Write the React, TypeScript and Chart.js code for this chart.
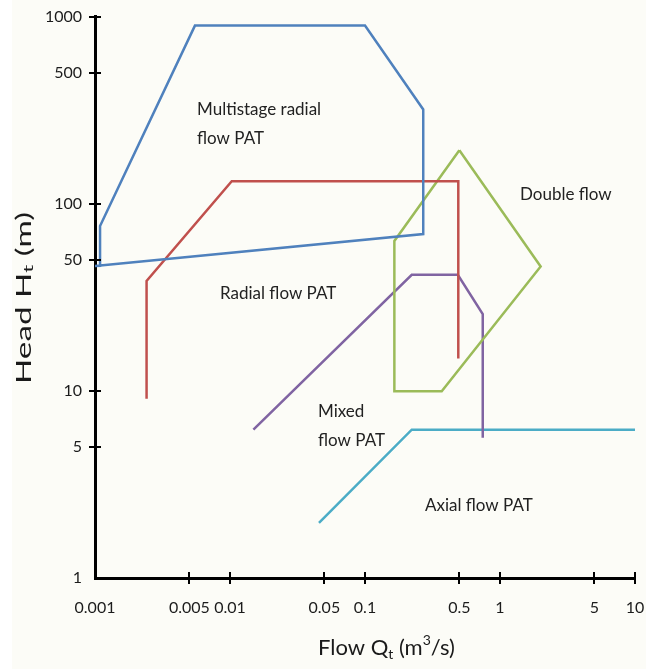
import React, { useEffect, useRef } from "react";
import { Chart, registerables } from "chart.js";

Chart.register(...registerables);

// Tick values and labels
const xTickValues = [0.001, 0.005, 0.01, 0.05, 0.1, 0.5, 1, 5, 10];
const xTickLabels = ["0.001", "0.005", "0.01", "0.05", "0.1", "0.5", "1", "5", "10"];
const yTickValues = [1, 5, 10, 50, 100, 500, 1000];
const yTickLabels = ["1", "5", "10", "50", "100", "500", "1000"];

// Envelope outlines: [flow Q (m3/s), head H (m)]
const multistageQ = [0.001, 0.00109, 0.00109, 0.0055, 0.1, 0.27, 0.27, 0.001];
const multistageH = [46.5, 46.6, 76, 895, 895, 319, 68.9, 46.5];

const radialQ = [0.00241, 0.00241, 0.0103, 0.491, 0.491];
const radialH = [9.07, 38.7, 132, 132, 14.9];

const doubleQ = [0.5, 2.0, 0.37, 0.165, 0.165, 0.5];
const doubleH = [193, 46.2, 9.96, 9.96, 63.2, 193];

const mixedQ = [0.0149, 0.222, 0.487, 0.745, 0.745];
const mixedH = [6.2, 41.7, 41.7, 25.7, 5.62];

const axialQ = [0.0456, 0.222, 10];
const axialH = [1.97, 6.2, 6.2];

const seriesColors = ["#4F81BD", "#C0504D", "#9BBB59", "#8064A2", "#4BACC6"];

// Region labels: lines of text, anchored at (Q, H) of their first line
const regionLabels = [
  { lines: ["Multistage radial", "flow PAT"], q: 0.0057, h: 319 },
  { lines: ["Radial flow PAT"], q: 0.00843, h: 33.0 },
  { lines: ["Double flow"], q: 1.406, h: 112.6 },
  { lines: ["Mixed", "flow PAT"], q: 0.0449, h: 7.76 },
  { lines: ["Axial flow PAT"], q: 0.278, h: 2.45 },
];

const toPoints = (qs: number[], hs: number[]) => qs.map((q, i) => ({ x: q, y: hs[i] }));

export default function App() {
  const ref = useRef<HTMLCanvasElement | null>(null);

  useEffect(() => {
    document.body.style.margin = "0";
    const canvas = ref.current;
    if (!canvas) return;

    const allSeries = [
      toPoints(multistageQ, multistageH),
      toPoints(radialQ, radialH),
      toPoints(doubleQ, doubleH),
      toPoints(mixedQ, mixedH),
      toPoints(axialQ, axialH),
    ];

    const overlay = {
      id: "overlay",
      beforeDraw(chart: any) {
        const c = chart.ctx;
        c.save();
        c.fillStyle = "#ffffff";
        c.fillRect(0, 0, chart.width, chart.height);
        c.fillStyle = "#fcfcf7";
        c.fillRect(12, 0, 634, chart.height);
        c.restore();
      },
      afterDraw(chart: any) {
        const c = chart.ctx;
        const xs = chart.scales.x;
        const ys = chart.scales.y;
        const area = chart.chartArea;
        c.save();
        // inner halves of tick marks
        c.strokeStyle = "#000";
        c.lineWidth = 2;
        xTickValues.forEach((v, i) => {
          if (i === 0) return;
          const px = Math.round(xs.getPixelForValue(v));
          c.beginPath();
          c.moveTo(px, area.bottom);
          c.lineTo(px, area.bottom - 6);
          c.stroke();
        });
        yTickValues.forEach((v, i) => {
          if (i === 0) return;
          const py = Math.round(ys.getPixelForValue(v));
          c.beginPath();
          c.moveTo(area.left, py);
          c.lineTo(area.left + 6, py);
          c.stroke();
        });

        // region labels
        c.fillStyle = "#222222";
        c.font = "17px Lato";
        c.textAlign = "left";
        c.textBaseline = "middle";
        regionLabels.forEach((lab) => {
          const px = xs.getPixelForValue(lab.q);
          const py = ys.getPixelForValue(lab.h);
          lab.lines.forEach((ln, k) => c.fillText(ln, px, py + k * 29));
        });

        // x-axis title: Flow Q_t (m^3/s)
        c.fillStyle = "#1a1a1a";
        c.textBaseline = "alphabetic";
        const big = "22px Lato";
        const small = "14px Lato";
        let x = 318;
        const base = 655;
        const drawPart = (t: string, font: string, dy: number) => {
          c.font = font;
          c.fillText(t, x, base + dy);
          x += c.measureText(t).width;
        };
        drawPart("Flow Q", big, 0);
        drawPart("t", small, 4);
        drawPart(" (m", big, 0);
        drawPart("3", small, -10);
        drawPart("/s)", big, 0);

        // y-axis title: Head H_t (m), rotated and stretched
        c.save();
        c.translate(24, 298);
        c.rotate(-Math.PI / 2);
        const yBig = "21px Lato";
        const ySmall = "14px Lato";
        const parts: [string, string, number][] = [
          ["Head H", yBig, 0],
          ["t", ySmall, 4],
          [" (m)", yBig, 0],
        ];
        let total = 0;
        parts.forEach(([t, f]) => {
          c.font = f;
          total += c.measureText(t).width;
        });
        const sx = 172 / total;
        c.scale(sx, 1);
        let yx = -total / 2;
        c.textBaseline = "middle";
        parts.forEach(([t, f, dy]) => {
          c.font = f;
          c.fillText(t, yx, dy);
          yx += c.measureText(t).width;
        });
        c.restore();
        c.restore();
      },
    };

    const tickFont = { family: "Lato", size: 16 };

    const chart = new Chart(canvas, {
      type: "scatter",
      data: {
        datasets: allSeries.map((pts, i) => ({
          data: pts,
          showLine: true,
          borderColor: seriesColors[i],
          backgroundColor: seriesColors[i],
          borderWidth: 2.5,
          pointRadius: 0,
          fill: false,
          tension: 0,
        })),
      },
      options: {
        responsive: false,
        animation: false,
        layout: { padding: { top: 15, right: 25, left: 0, bottom: 0 } },
        plugins: { legend: { display: false }, tooltip: { enabled: false } },
        scales: {
          x: {
            type: "logarithmic",
            min: 0.001,
            max: 10,
            afterBuildTicks: (s: any) => {
              s.ticks = xTickValues.map((v) => ({ value: v }));
            },
            afterFit: (s: any) => {
              s.height = 91;
            },
            ticks: {
              autoSkip: false,
              maxRotation: 0,
              padding: 14,
              color: "#1c1c1c",
              font: tickFont,
              callback: (v: any) => {
                const i = xTickValues.findIndex((t) => Math.abs(t - Number(v)) < 1e-9);
                return i >= 0 ? xTickLabels[i] : "";
              },
            },
            grid: {
              display: true,
              drawOnChartArea: false,
              drawTicks: true,
              tickLength: 6,
              lineWidth: 2,
              color: (ctx: any) => (ctx.index === 0 ? "rgba(0,0,0,0)" : "#000"),
            },
            border: { display: true, color: "#000", width: 3 },
          },
          y: {
            type: "logarithmic",
            min: 1,
            max: 1000,
            afterBuildTicks: (s: any) => {
              s.ticks = yTickValues.map((v) => ({ value: v }));
            },
            afterFit: (s: any) => {
              s.width = 95;
            },
            ticks: {
              autoSkip: false,
              padding: 7,
              color: "#1c1c1c",
              font: tickFont,
              callback: (v: any) => {
                const i = yTickValues.findIndex((t) => Math.abs(t - Number(v)) < 1e-9);
                return i >= 0 ? yTickLabels[i] : "";
              },
            },
            grid: {
              display: true,
              drawOnChartArea: false,
              drawTicks: true,
              tickLength: 6,
              lineWidth: 2,
              color: (ctx: any) => (ctx.index === 0 ? "rgba(0,0,0,0)" : "#000"),
            },
            border: { display: true, color: "#000", width: 3 },
          },
        },
      },
      plugins: [overlay],
    } as any);

    return () => chart.destroy();
  }, []);

  return <canvas ref={ref} width={660} height={669} style={{ display: "block" }} />;
}
